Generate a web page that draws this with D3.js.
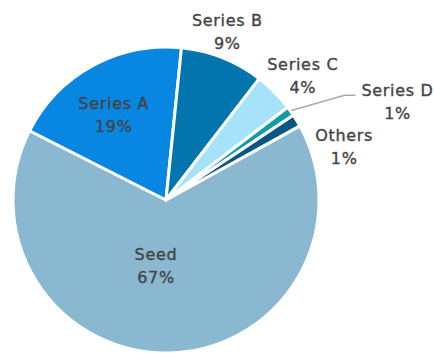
<!doctype html>
<html>
<head>
  <meta charset="utf-8">
  <script src="https://d3js.org/d3.v7.min.js"></script>
  <style>
    body { margin: 0; background: #fff; }
    text { font-family: "DejaVu Sans", "Noto Sans", sans-serif; font-size: 16px; letter-spacing: 0.7px;
           fill: #444; stroke: #444; stroke-width: 0.35px; }
  </style>
</head>
<body>
  <svg width="434" height="353"></svg>
  <script>
  // slices in clockwise order, starting from Seed
  var names  = ["Seed", "Series A", "Series B", "Series C", "Series D", "Others"];
  var values = [65.4, 19.1, 8.8, 4.2, 1.0, 1.3];
  var pctLabels = ["67%", "19%", "9%", "4%", "1%", "1%"];
  var colors = ["#8ab8d0", "#0786e2", "#0275af", "#a6e3fb", "#0f9ea8", "#0a5682"];

  var svg = d3.select("svg"),
      cx = 166, cy = 200, radius = 153;

  // label placement: [radius factor, angle nudge in degrees]
  var labelPos = {
    "Seed":     [0.42, 10],
    "Series A": [0.67, -2],
    "Series B": [1.19, -2],
    "Series C": [1.22, 2],
    "Series D": [1.65, 12],
    "Others":   [1.22, 14]
  };

  var pie = d3.pie().sort(null).value(function(d) { return d; })
      .startAngle(61 * Math.PI / 180)
      .endAngle(61 * Math.PI / 180 + 2 * Math.PI);

  var arcs = pie(values);
  var arc = d3.arc().innerRadius(0).outerRadius(radius);

  var g = svg.append("g").attr("transform", "translate(" + cx + "," + cy + ")");

  g.selectAll(".slice")
    .data(arcs)
    .enter().append("path")
      .attr("class", "slice")
      .attr("d", arc)
      .attr("fill", function(d, i) { return colors[i]; })
      .attr("stroke", "#fff")
      .attr("stroke-width", 3)
      .attr("stroke-linejoin", "round");

  function polar(a, r) { return [Math.sin(a) * r, -Math.cos(a) * r]; }

  arcs.forEach(function(d, i) {
    var lp = labelPos[names[i]],
        mid = (d.startAngle + d.endAngle) / 2,
        a = mid + lp[1] * Math.PI / 180,
        p = polar(a, radius * lp[0]);

    if (names[i] == "Series D") {
      var p0 = polar(mid, radius + 1),
          p1 = [p[0] - 53, p[1] - 4],
          p2 = [p[0] - 42, p[1] - 4];
      g.append("polyline")
        .attr("points", [p0, p1, p2].map(function(q) { return q.join(","); }).join(" "))
        .attr("fill", "none")
        .attr("stroke", "#aaa")
        .attr("stroke-width", 1.5);
    }

    var t = g.append("text")
      .attr("text-anchor", "middle")
      .attr("transform", "translate(" + p[0] + "," + p[1] + ")");
    t.append("tspan").attr("x", 0).attr("y", -3).text(names[i]);
    t.append("tspan").attr("x", 0).attr("y", 20).text(pctLabels[i]);
  });
  </script>
</body>
</html>
